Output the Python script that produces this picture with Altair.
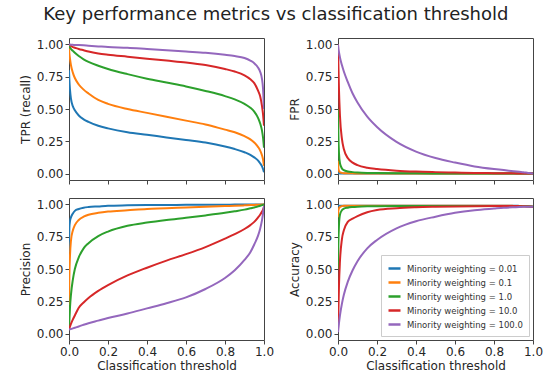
import altair as alt
import pandas as pd

# threshold grid shared by all series
X = [0, 0.002, 0.005, 0.01, 0.02, 0.03, 0.05, 0.075, 0.1, 0.15, 0.2, 0.3, 0.4, 0.5,
     0.6, 0.7, 0.8, 0.85, 0.9, 0.93, 0.95, 0.97, 0.98, 0.99, 0.995, 1.0]

LABELS = ["Minority weighting = 0.01", "Minority weighting = 0.1", "Minority weighting = 1.0",
          "Minority weighting = 10.0", "Minority weighting = 100.0"]
COLORS = ["#1f77b4", "#ff7f0e", "#2ca02c", "#d62728", "#9467bd"]

tpr_001 = [0.80, 0.72, 0.65, 0.58, 0.52, 0.49, 0.45, 0.42, 0.40, 0.37, 0.35, 0.32, 0.30, 0.28, 0.26, 0.24, 0.21, 0.19, 0.165, 0.145, 0.125, 0.10, 0.08, 0.055, 0.035, 0.01]
tpr_01 = [0.97, 0.93, 0.89, 0.84, 0.78, 0.74, 0.69, 0.65, 0.62, 0.57, 0.54, 0.50, 0.47, 0.44, 0.41, 0.38, 0.34, 0.32, 0.29, 0.265, 0.24, 0.205, 0.18, 0.14, 0.11, 0.06]
tpr_1 = [1.0, 0.99, 0.98, 0.965, 0.95, 0.935, 0.91, 0.885, 0.865, 0.835, 0.81, 0.77, 0.735, 0.705, 0.675, 0.64, 0.60, 0.575, 0.54, 0.51, 0.48, 0.43, 0.39, 0.33, 0.28, 0.20]
tpr_10 = [1.0, 0.998, 0.995, 0.99, 0.98, 0.975, 0.965, 0.955, 0.945, 0.93, 0.92, 0.905, 0.89, 0.875, 0.86, 0.84, 0.81, 0.79, 0.76, 0.73, 0.70, 0.64, 0.60, 0.52, 0.46, 0.37]
tpr_100 = [1.0, 1.0, 0.999, 0.998, 0.997, 0.996, 0.995, 0.993, 0.99, 0.985, 0.98, 0.975, 0.965, 0.955, 0.945, 0.935, 0.92, 0.91, 0.895, 0.875, 0.855, 0.82, 0.79, 0.73, 0.66, 0.50]

fpr_001 = [0.01, 0.004, 0.002, 0.001, 0.0005, 0.0003, 0.0002, 0.0001, 0, 0, 0, 0, 0, 0, 0, 0, 0, 0, 0, 0, 0, 0, 0, 0, 0, 0]
fpr_01 = [0.1, 0.04, 0.02, 0.01, 0.005, 0.003, 0.002, 0.0015, 0.001, 0.0007, 0.0005, 0.0003, 0.0002, 0.0001, 0, 0, 0, 0, 0, 0, 0, 0, 0, 0, 0, 0]
fpr_1 = [0.5, 0.3, 0.16, 0.08, 0.04, 0.027, 0.016, 0.011, 0.008, 0.005, 0.004, 0.0025, 0.0015, 0.001, 0.0007, 0.0005, 0.0003, 0.0002, 0.0001, 0, 0, 0, 0, 0, 0, 0]
fpr_10 = [1.0, 0.85, 0.65, 0.45, 0.27, 0.19, 0.12, 0.085, 0.065, 0.045, 0.035, 0.022, 0.015, 0.011, 0.008, 0.005, 0.003, 0.002, 0.0015, 0.001, 0.0007, 0.0004, 0.0003, 0.0001, 0, 0]
fpr_100 = [1.0, 0.97, 0.94, 0.9, 0.84, 0.79, 0.71, 0.62, 0.55, 0.44, 0.36, 0.245, 0.17, 0.12, 0.085, 0.055, 0.035, 0.027, 0.018, 0.013, 0.01, 0.006, 0.004, 0.002, 0.001, 0.0]

prec_001 = [0.63, 0.82, 0.87, 0.9, 0.93, 0.95, 0.965, 0.975, 0.98, 0.985, 0.99, 0.993, 0.995, 0.996, 0.997, 0.998, 0.998, 0.999, 0.999, 0.999, 1.0, 1.0, 1.0, 1.0, 1.0, 1.0]
prec_01 = [0.22, 0.45, 0.6, 0.72, 0.8, 0.84, 0.88, 0.905, 0.92, 0.935, 0.945, 0.955, 0.965, 0.97, 0.977, 0.983, 0.988, 0.99, 0.993, 0.995, 0.996, 0.998, 0.998, 0.999, 1.0, 1.0]
prec_1 = [0.03, 0.1, 0.2, 0.3, 0.42, 0.5, 0.59, 0.66, 0.70, 0.755, 0.79, 0.835, 0.86, 0.88, 0.897, 0.915, 0.935, 0.947, 0.96, 0.97, 0.977, 0.985, 0.99, 0.995, 0.997, 1.0]
prec_10 = [0.03, 0.04, 0.055, 0.075, 0.11, 0.14, 0.2, 0.24, 0.275, 0.33, 0.375, 0.45, 0.51, 0.565, 0.615, 0.67, 0.735, 0.77, 0.81, 0.84, 0.865, 0.9, 0.92, 0.945, 0.96, 0.98]
prec_100 = [0.03, 0.031, 0.033, 0.035, 0.04, 0.045, 0.055, 0.068, 0.08, 0.1, 0.12, 0.155, 0.195, 0.235, 0.28, 0.345, 0.43, 0.49, 0.57, 0.63, 0.69, 0.76, 0.81, 0.88, 0.93, 0.99]

acc_001 = [0.985, 0.988, 0.99, 0.99, 0.99, 0.99, 0.99, 0.99, 0.99, 0.99, 0.99, 0.99, 0.99, 0.99, 0.99, 0.99, 0.99, 0.99, 0.99, 0.989, 0.988, 0.987, 0.986, 0.985, 0.984, 0.982]
acc_01 = [0.9, 0.95, 0.97, 0.98, 0.987, 0.99, 0.99, 0.99, 0.99, 0.99, 0.99, 0.99, 0.99, 0.99, 0.99, 0.99, 0.99, 0.99, 0.989, 0.988, 0.987, 0.986, 0.985, 0.984, 0.983, 0.982]
acc_1 = [0.5, 0.7, 0.84, 0.92, 0.955, 0.967, 0.975, 0.98, 0.983, 0.986, 0.987, 0.988, 0.988, 0.988, 0.988, 0.988, 0.988, 0.988, 0.988, 0.987, 0.987, 0.986, 0.985, 0.984, 0.983, 0.982]
acc_10 = [0.02, 0.17, 0.37, 0.56, 0.73, 0.8, 0.865, 0.89, 0.91, 0.94, 0.957, 0.971, 0.978, 0.982, 0.985, 0.987, 0.988, 0.988, 0.988, 0.987, 0.986, 0.985, 0.984, 0.983, 0.982, 0.982]
acc_100 = [0.01, 0.04, 0.08, 0.14, 0.23, 0.3, 0.4, 0.49, 0.56, 0.66, 0.725, 0.815, 0.87, 0.905, 0.935, 0.955, 0.968, 0.974, 0.978, 0.98, 0.982, 0.983, 0.983, 0.983, 0.982, 0.982]

METRICS = {
    "tpr": [tpr_001, tpr_01, tpr_1, tpr_10, tpr_100],
    "fpr": [fpr_001, fpr_01, fpr_1, fpr_10, fpr_100],
    "prec": [prec_001, prec_01, prec_1, prec_10, prec_100],
    "acc": [acc_001, acc_01, acc_1, acc_10, acc_100],
}

rows = []
for metric, series_list in METRICS.items():
    for k, (label, ys) in enumerate(zip(LABELS, series_list)):
        for x, y in zip(X, ys):
            rows.append({"metric": metric, "series": label, "order": k, "x": x, "y": y})
df = pd.DataFrame(rows)

FONT = "DejaVu Sans"


def panel(metric, ytitle, bottom, legend):
    xaxis_kw = dict(values=[0, 0.2, 0.4, 0.6, 0.8, 1.0], format=".1f", labelFlush=False,
                    labelOverlap=False, labels=bottom, titlePadding=3)
    if bottom:
        xaxis_kw["title"] = "Classification threshold"
    else:
        xaxis_kw["title"] = ""
    if legend:
        leg = alt.Legend(orient="bottom-right", title=None, labelFont=FONT, labelFontSize=8.5,
                         labelColor="#333", symbolType="stroke", symbolStrokeWidth=2.5,
                         symbolSize=144, strokeColor="#cccccc", fillColor="white",
                         padding=6, rowPadding=1, offset=4, labelLimit=200, labelOffset=5)
    else:
        leg = None
    return alt.Chart(df).transform_filter(alt.datum.metric == metric).mark_line(
        strokeWidth=2, interpolate="monotone", clip=True
    ).encode(
        x=alt.X("x:Q", scale=alt.Scale(domain=[0, 1], nice=False, zero=False), axis=alt.Axis(**xaxis_kw)),
        y=alt.Y("y:Q", scale=alt.Scale(domain=[-0.05, 1.05], nice=False, zero=False),
                axis=alt.Axis(values=[0, 0.25, 0.5, 0.75, 1.0], format=".2f", title=ytitle,
                              labelOverlap=False)),
        color=alt.Color("series:N", sort=LABELS, scale=alt.Scale(domain=LABELS, range=COLORS), legend=leg),
        order=alt.Order("order:Q"),
        detail="series:N",
    ).properties(width=195, height=142)


chart = alt.concat(
    panel("tpr", "TPR (recall)", False, False),
    panel("fpr", "FPR", False, False),
    panel("prec", "Precision", True, False),
    panel("acc", "Accuracy", True, True),
    columns=2,
    spacing={"column": 12, "row": 12},
).resolve_legend(color="independent").properties(
    title=alt.TitleParams("Key performance metrics vs classification threshold", fontSize=18,
                          font=FONT, fontWeight="normal", color="#222", anchor="middle", offset=14, dx=-5),
    padding={"left": 18, "top": 5, "right": 5, "bottom": 0},
).configure_view(stroke="#444", strokeWidth=1).configure_axis(
    domain=False, grid=False, tickColor="#444", tickSize=4, labelFont=FONT, labelFontSize=12,
    labelColor="#262626", labelPadding=2, titleFont=FONT, titleFontSize=12, titleFontWeight="normal",
    titleColor="#262626", titlePadding=4,
)

chart.save("out.html", embed_options={"renderer": "svg", "actions": False})
